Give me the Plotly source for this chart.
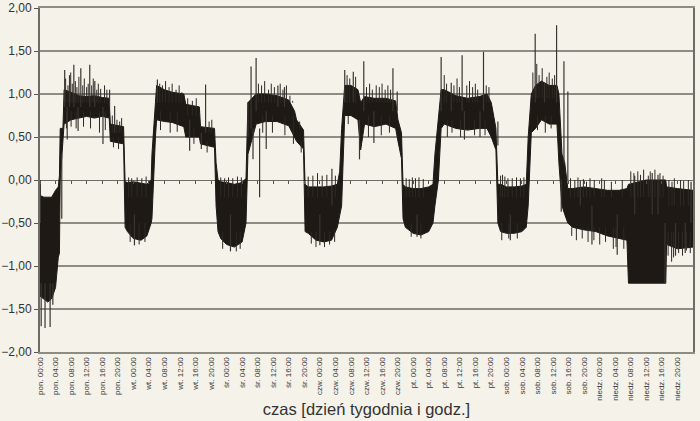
import plotly.graph_objects as go

# ---------------- data ----------------
day_names = ["pon.", "wt.", "śr.", "czw.", "pt.", "sob.", "niedz."]
tick_hours = list(range(0, 168, 4))
tick_labels = [f"{d} {h:02d}:00" for d in day_names for h in range(0, 24, 4)]

# envelope of the dense signal: time [h], upper value, lower value
env_t = [0.0, 1.0, 2.0, 3.0, 4.0, 4.7, 5.0, 5.2, 5.9, 6.2,
         8.0, 10.0, 12.0, 14.0, 16.0, 17.8, 18.1, 21.5, 21.9,
         22.5, 24.0, 26.0, 27.5, 28.6, 28.8, 29.7, 30.0,
         32.0, 34.0, 37.0, 37.5, 41.0, 41.3, 44.9, 45.3, 45.8,
         46.5, 48.0, 50.0, 52.0, 53.0, 53.5, 55.6,
         58.0, 61.0, 64.0, 65.5, 66.0, 67.8, 68.2,
         69.0, 71.0, 73.0, 75.0, 76.5, 77.1, 77.6, 78.4,
         80.0, 81.8, 82.5, 83.5, 86.0, 89.0, 91.5, 92.1, 93.0, 93.4,
         94.0, 96.0, 98.0, 100.0, 101.1, 101.6, 102.5, 103.2,
         104.0, 107.0, 110.0, 113.0, 115.0, 116.1, 117.3, 117.8,
         118.5, 120.0, 122.0, 124.0, 125.1, 125.6, 126.4,
         127.5, 129.0, 131.0, 133.0, 133.5, 134.3, 135.0, 135.8,
         137.0, 140.0, 143.0, 146.0, 149.0, 151.0, 151.4, 156.0, 161.0, 161.2,
         164.0, 168.0]
env_hi = [-0.18, -0.20, -0.20, -0.20, -0.12, -0.08, 0.05, 0.60, 0.60, 1.05,
          1.02, 0.98, 0.97, 0.98, 0.96, 0.95, 0.65, 0.62, -0.02,
          -0.03, -0.02, -0.04, -0.05, 0.00, 0.30, 0.90, 1.10,
          1.05, 1.02, 1.00, 0.88, 0.85, 0.62, 0.60, 0.20, 0.00,
          -0.02, -0.03, -0.05, -0.03, 0.02, 0.90, 1.00,
          1.00, 0.98, 0.93, 0.80, 0.70, 0.58, -0.05,
          -0.08, -0.08, -0.08, -0.07, -0.05, 0.10, 0.60, 1.10,
          1.10, 1.05, 0.90, 0.97, 0.95, 0.95, 0.92, 0.70, 0.55, -0.05,
          -0.08, -0.10, -0.10, -0.08, -0.05, 0.30, 0.70, 1.05,
          1.05, 0.98, 0.95, 0.97, 1.00, 0.90, 0.60, -0.05,
          -0.05, -0.08, -0.08, -0.07, -0.05, 0.50, 1.00,
          1.10, 1.15, 1.10, 1.10, 1.00, 0.30, 0.20, -0.10,
          -0.10, -0.08, -0.10, -0.12, -0.12, -0.10, -0.05, 0.00, 0.00, -0.08,
          -0.10, -0.12]
env_lo = [-1.35, -1.38, -1.42, -1.38, -1.25, -0.90, -0.85, 0.00, 0.45, 0.65,
          0.70, 0.72, 0.74, 0.72, 0.74, 0.72, 0.45, 0.42, -0.55,
          -0.60, -0.68, -0.70, -0.65, -0.50, -0.45, 0.50, 0.70,
          0.68, 0.67, 0.62, 0.50, 0.50, 0.42, 0.38, -0.30, -0.60,
          -0.68, -0.75, -0.78, -0.72, -0.50, 0.30, 0.65,
          0.68, 0.68, 0.63, 0.50, 0.45, 0.36, -0.60,
          -0.62, -0.70, -0.72, -0.70, -0.55, -0.40, -0.30, 0.75,
          0.75, 0.70, 0.35, 0.65, 0.62, 0.65, 0.60, 0.45, 0.25, -0.45,
          -0.55, -0.62, -0.64, -0.60, -0.50, -0.30, 0.00, 0.60,
          0.65, 0.60, 0.58, 0.60, 0.60, 0.50, 0.35, -0.50,
          -0.60, -0.62, -0.62, -0.60, -0.55, -0.30, 0.55,
          0.60, 0.70, 0.65, 0.65, 0.20, -0.30, -0.40, -0.50,
          -0.55, -0.58, -0.60, -0.65, -0.68, -0.70, -1.20, -1.20, -1.20, -0.75,
          -0.80, -0.78]

# large isolated spikes: time [h], start value, end value
spike_t = [0.1, 0.3, 1.3, 2.6, 3.3, 5.6,
           6.35, 7.0, 7.6, 8.7, 9.8, 10.5, 12.8, 14.1, 16.2, 17.9, 19.2,
           24.3, 30.2, 38.5, 41.5, 42.6,
           49.0, 53.5, 54.3, 54.8, 55.6, 56.5, 58.2, 61.2, 62.9,
           72.0, 75.1, 78.4, 80.6, 82.2, 83.3, 85.9, 90.8, 91.9,
           97.0, 103.2, 105.8, 108.6, 109.2, 113.2, 114.1, 117.8,
           121.0, 127.4, 129.8, 132.9, 134.1, 134.8, 135.8,
           139.0, 142.0, 148.5, 153.0, 157.5, 159.0, 160.8, 163.5, 166.0, 167.5]
spike_from = [-0.5, -1.2, -1.2, -1.2, -1.2, 0.3,
              0.85, 0.85, 0.85, 0.85, 0.85, 0.85, 0.85, 0.85, 0.85, 0.85, 0.55,
              -0.4, 0.9, 0.7, 0.55, 0.55,
              -0.4, 0.5, 0.6, 0.6, 0.8, 0.6, 0.8, 0.85, 0.85,
              -0.4, -0.3, 0.9, 0.9, 0.7, 0.8, 0.8, 0.8, 0.8,
              -0.4, 0.8, 0.8, 0.8, 0.8, 0.8, 0.8, 0.4,
              -0.4, 0.9, 0.9, 0.9, 0.0, 0.2, 0.0,
              -0.3, -0.3, -0.4, -0.4, -0.4, -0.4, -0.5, -0.5, -0.5, -0.5]
spike_to = [0.00, -1.70, -1.72, -1.71, -1.45, -0.45,
            1.28, 0.47, 1.22, 1.34, 0.57, 1.30, 1.34, 1.15, 0.42, 1.05, 0.86,
            -0.76, 1.17, 0.34, 0.36, 1.11,
            -0.83, 0.90, 1.32, 0.24, 1.42, -0.20, 0.36, 1.10, 1.08,
            -0.76, 0.13, 1.28, 1.26, 0.24, 1.38, 0.43, 1.30, 1.03,
            -0.66, 1.43, 1.13, 1.45, 0.47, 0.50, 1.49, 0.68,
            -0.70, 1.70, 1.13, 1.80, -0.37, 1.38, 1.03,
            0.00, -0.75, -0.87, 0.05, 0.08, 0.06, -1.20, -0.88, -0.85, -0.02]

# small "hairs" of noise sticking out of the band: time [h], start, end
hair_t = [6.6, 7.2, 7.9, 8.3, 9.1, 9.5, 10.0, 11.0, 11.4, 12.0, 12.4, 13.3,
          13.7, 14.6, 15.0, 15.6, 16.6, 17.2,
          6.8, 8.0, 9.3, 11.2, 13.0, 15.3, 16.8,
          18.6, 19.8, 20.5, 21.0, 18.9, 20.2,
          22.8, 23.6, 25.0, 26.2, 27.3, 23.2, 25.5, 27.0,
          30.8, 31.5, 32.3, 33.2, 34.0, 35.0, 35.8, 36.5, 31.0, 33.5, 35.3,
          38.0, 39.2, 40.2, 39.6, 43.5, 44.2, 43.0,
          46.5, 47.5, 48.5, 49.6, 50.8, 51.8, 47.0, 50.5, 51.5,
          56.2, 57.0, 57.8, 58.8, 59.5, 60.3, 61.8, 62.5, 63.4, 64.3, 65.0,
          57.3, 59.8, 63.0, 65.2, 66.8, 67.2,
          69.0, 70.2, 71.4, 72.6, 73.8, 76.0, 69.8, 71.0, 73.2, 74.5, 75.8,
          79.0, 79.7, 81.2, 84.0, 84.8, 85.5, 86.5, 87.3, 88.0, 88.8, 89.5,
          90.2, 79.3, 84.5, 87.8, 89.9,
          94.2, 95.0, 95.8, 96.6, 97.5, 98.6, 95.5, 98.0,
          104.0, 104.6, 106.5, 107.3, 107.9, 109.8, 110.5, 111.3, 112.0,
          112.6, 114.8, 115.5, 104.8, 106.0, 108.2, 111.8, 114.5,
          118.5, 119.0, 119.6, 120.4, 121.5, 122.6, 123.6, 124.5,
          118.8, 120.6, 122.8,
          126.8, 127.8, 128.4, 129.2, 130.4, 131.0, 131.8, 132.4,
          128.0, 130.0, 131.5,
          136.5, 137.6, 138.4, 139.8, 140.6, 141.5, 142.6, 144.5, 145.2,
          147.0, 149.8, 136.8, 138.0, 139.5, 141.0, 142.5, 144.0, 145.5,
          147.5, 148.2, 150.2,
          152.0, 152.8, 153.8, 154.5, 155.3, 156.5, 157.0, 158.2, 159.5, 160.3,
          161.8, 162.6, 163.2, 164.8, 165.6, 166.8,
          161.6, 162.5, 163.0, 164.3, 165.3, 166.3, 167.3]
hair_from = ([0.9] * 18 + [0.8] * 7 + [0.55] * 4 + [0.5] * 2
             + [-0.2] * 5 + [-0.5] * 3
             + [0.9] * 8 + [0.8] * 3
             + [0.75] * 3 + [0.6] + [0.55] * 2 + [0.45]
             + [-0.2] * 6 + [-0.6] * 3
             + [0.9] * 11 + [0.75] * 4 + [0.6, 0.45]
             + [-0.2] * 6 + [-0.6] * 5
             + [0.9] * 12 + [0.75] * 4
             + [-0.2] * 6 + [-0.5] * 2
             + [0.9] * 12 + [0.7] * 5
             + [-0.2] * 8 + [-0.5] * 3
             + [0.95] * 8 + [0.75] * 3
             + [-0.2] * 11 + [-0.55] * 10
             + [-0.2] * 10
             + [-0.3] * 6 + [-0.6] * 7)
hair_to = [1.18, 1.10, 1.25, 1.12, 1.15, 1.08, 1.20, 1.10, 1.18, 1.08, 1.12,
           1.10, 1.18, 1.05, 1.12, 1.06, 1.10, 1.05,
           0.60, 0.62, 0.60, 0.62, 0.60, 0.55, 0.58,
           0.75, 0.70, 0.68, 0.72, 0.38, 0.36,
           0.03, 0.02, 0.03, 0.02, 0.04, -0.72, -0.75, -0.72,
           1.12, 1.10, 1.15, 1.08, 1.12, 1.05, 1.10, 1.02, 0.58, 0.55, 0.56,
           0.95, 0.92, 0.95, 0.42, 0.68, 0.70, 0.32,
           0.03, 0.02, 0.03, 0.02, 0.04, 0.03, -0.80, -0.83, -0.80,
           1.12, 1.10, 1.15, 1.05, 1.12, 1.08, 1.12, 1.05, 1.10, 0.98, 0.92,
           0.55, 0.55, 0.52, 0.42, 0.68, 0.32,
           0.04, 0.05, 0.08, 0.05, 0.06, 0.05, -0.74, -0.78, -0.78, -0.75, -0.72,
           1.22, 1.18, 1.20, 1.08, 1.12, 1.05, 1.10, 1.08, 1.12, 1.05, 1.10,
           1.05, 0.65, 0.50, 0.52, 0.55,
           0.02, 0.01, 0.03, 0.02, 0.03, 0.01, -0.66, -0.68,
           1.22, 1.12, 1.10, 1.18, 1.08, 1.10, 1.15, 1.08, 1.12,
           1.05, 1.10, 1.08, 0.50, 0.55, 0.50, 0.52, 0.52,
           0.05, 0.06, 0.04, 0.02, 0.02, 0.03, 0.02, 0.03,
           -0.70, -0.68, -0.68,
           1.25, 1.35, 1.22, 1.30, 1.20, 1.25, 1.18, 1.22,
           0.58, 0.55, 0.60,
           0.02, 0.00, 0.03, 0.01, -0.02, 0.02, 0.00, 0.02, 0.00,
           -0.02, 0.00, -0.65, -0.70, -0.68, -0.72, -0.70, -0.75, -0.72,
           -0.80, -0.78, -0.80,
           0.10, 0.08, 0.10, 0.06, 0.12, 0.05, 0.10, 0.12, 0.08, 0.05,
           0.00, -0.02, 0.02, 0.00, -0.01, 0.00,
           -0.88, -0.95, -0.90, -0.85, -0.88, -0.82, -0.85]

# ---------------- figure ----------------
BG = "#f5f2e9"
INK = "#1e1915"
GRID = "#8f8b85"

fig = go.Figure()

fig.add_trace(go.Scatter(x=env_t, y=env_lo, mode="lines",
                         line=dict(color=INK, width=1), hoverinfo="skip",
                         showlegend=False))
fig.add_trace(go.Scatter(x=env_t, y=env_hi, mode="lines", fill="tonexty",
                         fillcolor=INK, line=dict(color=INK, width=1),
                         hoverinfo="skip", showlegend=False))


def segs(ts, a_vals, b_vals):
    xs, ys = [], []
    for t, a, b in zip(ts, a_vals, b_vals):
        xs += [t, t, None]
        ys += [a, b, None]
    return xs, ys


hx, hy = segs(hair_t, hair_from, hair_to)
fig.add_trace(go.Scatter(x=hx, y=hy, mode="lines",
                         line=dict(color="#2e2924", width=1),
                         hoverinfo="skip", showlegend=False))

sx, sy = segs(spike_t, spike_from, spike_to)
fig.add_trace(go.Scatter(x=sx, y=sy, mode="lines",
                         line=dict(color="#3a3530", width=1.2),
                         hoverinfo="skip", showlegend=False))

# helper trace for the tick axis crossing at zero
fig.add_trace(go.Scatter(x=[0, 168], y=[None, None], xaxis="x2",
                         mode="lines", showlegend=False, hoverinfo="skip"))

fig.update_layout(
    width=700, height=421,
    margin=dict(l=40, r=7, t=8, b=69),
    paper_bgcolor=BG, plot_bgcolor=BG,
    separators=", ",
    font=dict(family="Liberation Sans, Arial, sans-serif", color="#333333"),
    showlegend=False,
    xaxis=dict(
        range=[0, 168], tickmode="array", tickvals=tick_hours,
        ticktext=tick_labels, tickangle=-90, ticks="",
        tickfont=dict(size=8, color="#3a3a3a"), automargin=False,
        showgrid=False, zeroline=False,
        showline=True, linecolor=GRID, linewidth=2, mirror=True,
        title=dict(text="czas [dzień tygodnia i godz.]",
                   font=dict(size=16.5, color="#333333"), standoff=4),
    ),
    xaxis2=dict(
        range=[0, 168], overlaying="x", anchor="free", position=0.5,
        side="bottom", tickmode="array", tickvals=tick_hours,
        showticklabels=False, ticks="outside", ticklen=3, tickwidth=1,
        tickcolor="#555555", showgrid=False, zeroline=False,
        showline=False,
    ),
    yaxis=dict(
        range=[-2, 2], dtick=0.5, tick0=0, tickformat=".2f",
        tickfont=dict(size=12, color="#333333"), automargin=False,
        ticks="outside", ticklen=4, tickcolor="#555555",
        showgrid=True, gridcolor=GRID, gridwidth=1.5,
        zeroline=True, zerolinecolor="#6e6a64", zerolinewidth=1,
        showline=True, linecolor="#6e6a64", linewidth=2, mirror=True,
    ),
)

fig.write_html("out.html")
